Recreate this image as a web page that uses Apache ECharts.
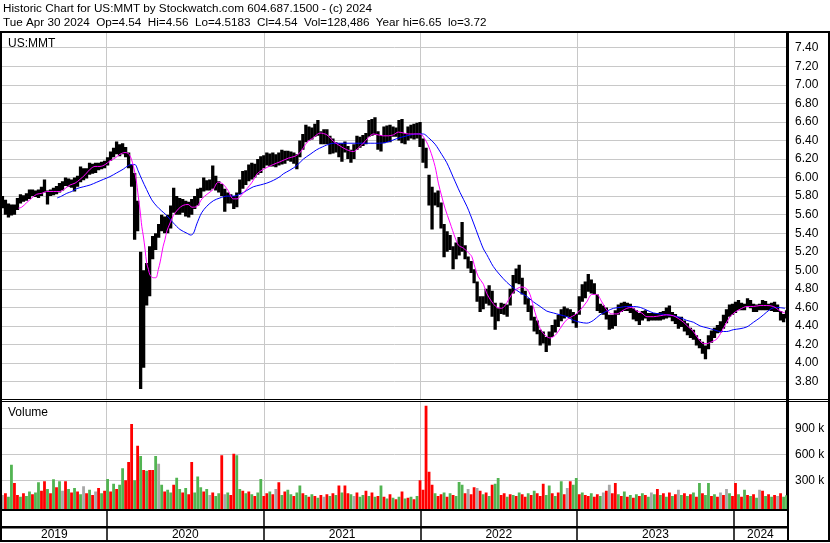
<!DOCTYPE html>
<html><head><meta charset="utf-8">
<script src="https://cdn.jsdelivr.net/npm/echarts@6/dist/echarts.min.js"></script>
<style>html,body{margin:0;padding:0;background:#fff}#c{width:830px;height:543px}</style>
</head><body><div id="c"></div>
<script>
// ---------------- DATA ----------------
const titleLine1 = 'Historic Chart for US:MMT by Stockwatch.com 604.687.1500 - (c) 2024';
const titleLine2 = 'Tue Apr 30 2024  Op=4.54  Hi=4.56  Lo=4.5183  Cl=4.54  Vol=128,486  Year hi=6.65  lo=3.72';
const symbolLabel = 'US:MMT';
const volumeLabel = 'Volume';
const firstWeek = '2019-05-03';   // one bar per week from this date
const axisStart = '2019-05-02';
const axisEnd = '2024-05-04';

const weekHigh = [
5.80,5.76,5.72,5.71,5.71,5.78,5.82,5.81,5.83,5.87,5.87,5.86,5.87,5.90,5.98,5.86,5.87,5.89,5.91,5.94,
5.96,6.00,5.99,5.98,6.00,6.02,6.12,6.10,6.10,6.16,6.15,6.16,6.16,6.17,6.18,6.22,6.28,6.32,6.39,6.36,
6.37,6.33,6.27,6.14,6.05,5.75,5.20,5.00,5.08,5.26,5.37,5.40,5.50,5.60,5.58,5.60,5.70,5.89,5.80,5.78,
5.77,5.75,5.74,5.77,5.80,5.88,5.89,6.00,5.97,5.98,6.13,6.02,5.96,5.93,5.88,5.84,5.82,5.80,5.84,5.98,
6.07,6.08,6.14,6.16,6.15,6.20,6.23,6.24,6.27,6.26,6.27,6.25,6.27,6.30,6.29,6.29,6.28,6.27,6.25,6.40,
6.47,6.57,6.55,6.54,6.58,6.62,6.50,6.52,6.52,6.45,6.42,6.38,6.37,6.37,6.39,6.34,6.30,6.36,6.45,6.44,
6.46,6.48,6.62,6.63,6.65,6.50,6.46,6.55,6.56,6.57,6.55,6.54,6.62,6.63,6.48,6.55,6.57,6.58,6.59,6.60,
6.42,6.32,6.03,5.90,5.84,5.86,5.73,5.50,5.42,5.38,5.26,5.30,5.36,5.52,5.27,5.15,5.10,5.01,4.88,4.72,
4.72,4.80,4.84,4.78,4.65,4.59,4.65,4.64,4.63,4.80,4.95,5.02,5.06,4.92,4.78,4.70,4.62,4.50,4.46,4.36,
4.34,4.28,4.34,4.41,4.47,4.52,4.58,4.61,4.59,4.58,4.55,4.53,4.72,4.85,4.88,4.96,4.90,4.86,4.74,4.64,
4.62,4.60,4.52,4.52,4.57,4.63,4.65,4.66,4.65,4.64,4.59,4.57,4.54,4.56,4.57,4.54,4.54,4.54,4.54,4.55,
4.56,4.60,4.62,4.55,4.53,4.50,4.50,4.46,4.43,4.38,4.36,4.30,4.26,4.23,4.19,4.30,4.35,4.38,4.41,4.45,
4.52,4.58,4.63,4.64,4.66,4.68,4.65,4.64,4.70,4.68,4.64,4.63,4.64,4.68,4.67,4.64,4.65,4.66,4.63,4.56,
4.53,4.57];
const weekLow = [
5.67,5.60,5.57,5.59,5.60,5.65,5.72,5.74,5.75,5.77,5.80,5.79,5.78,5.80,5.84,5.71,5.80,5.81,5.82,5.84,
5.86,5.91,5.90,5.89,5.85,5.90,5.95,5.97,5.99,6.03,6.04,6.05,6.08,6.09,6.10,6.13,6.18,6.22,6.25,6.23,
6.25,6.22,6.10,5.90,5.33,5.42,3.72,3.95,4.62,4.72,5.12,5.22,5.35,5.42,5.40,5.40,5.45,5.62,5.60,5.60,
5.62,5.58,5.57,5.60,5.66,5.70,5.78,5.85,5.86,5.86,5.88,5.86,5.84,5.80,5.63,5.72,5.72,5.66,5.68,5.82,
5.88,5.92,5.96,5.98,6.00,6.03,6.05,6.10,6.13,6.12,6.12,6.11,6.13,6.14,6.15,6.18,6.17,6.15,6.09,6.22,
6.30,6.38,6.40,6.41,6.44,6.45,6.36,6.36,6.36,6.25,6.26,6.27,6.22,6.17,6.27,6.20,6.16,6.20,6.30,6.32,
6.34,6.36,6.44,6.45,6.46,6.30,6.28,6.37,6.38,6.38,6.44,6.44,6.40,6.37,6.36,6.40,6.42,6.41,6.42,6.33,
6.16,6.10,5.70,5.44,5.70,5.68,5.45,5.14,5.20,5.22,5.01,5.12,5.16,5.20,5.12,5.02,4.97,4.86,4.66,4.55,
4.58,4.64,4.62,4.50,4.36,4.45,4.53,4.52,4.50,4.62,4.75,4.86,4.85,4.74,4.63,4.55,4.46,4.34,4.31,4.19,
4.21,4.12,4.19,4.28,4.33,4.39,4.45,4.48,4.50,4.48,4.43,4.38,4.52,4.66,4.70,4.77,4.75,4.74,4.56,4.54,
4.52,4.47,4.36,4.37,4.40,4.52,4.55,4.56,4.56,4.54,4.47,4.45,4.41,4.46,4.48,4.45,4.46,4.46,4.46,4.46,
4.47,4.48,4.49,4.45,4.42,4.37,4.39,4.34,4.30,4.27,4.25,4.19,4.16,4.10,4.04,4.15,4.22,4.27,4.32,4.33,
4.37,4.43,4.50,4.52,4.54,4.57,4.57,4.57,4.61,4.59,4.55,4.55,4.57,4.57,4.57,4.57,4.56,4.55,4.55,4.46,
4.44,4.48];
// weekly volume, thousands of shares
const weekVolumeK = [
130,150,110,480,270,130,110,150,120,170,140,160,277,180,290,200,150,311,220,290,
180,290,200,160,210,170,140,230,150,190,130,170,210,150,180,315,170,260,200,250,
440,300,510,950,300,700,580,420,410,420,420,580,490,250,170,190,160,250,330,200,
160,210,140,510,160,345,220,170,200,130,160,120,150,590,140,160,130,605,590,200,
180,150,170,140,120,160,315,120,150,170,140,200,277,130,170,190,140,120,160,240,
150,130,110,140,120,100,130,110,140,120,150,130,240,160,240,150,140,120,160,110,
130,180,120,160,110,120,240,110,90,140,100,80,110,170,90,100,110,80,120,300,
190,1160,400,250,150,120,140,160,110,150,130,120,280,250,150,200,140,220,210,180,
140,160,120,250,260,326,130,150,110,140,130,120,160,140,110,150,130,180,150,120,
260,130,240,150,120,160,290,140,210,290,250,326,140,160,130,120,150,110,140,120,
160,180,250,150,270,140,120,170,110,130,100,140,120,150,130,110,160,140,200,130,
150,110,160,120,140,190,130,150,120,140,160,110,270,150,130,270,120,140,110,160,
130,200,150,120,270,140,110,190,130,120,140,100,190,180,120,140,110,130,120,150,
110,128];
// bar colour per week (rows of 20 match the rows above): r = down, g = up, n = unchanged
const weekVolumeDir = [
'nrggrrgrggrggrrgrgrg',
'nrgrgrgnrgrnrgrgrgrg',
'grrrgrgrgrrgngrggrgg',
'rgrrgggrgnrggrngrrgg',
'rgrgrggrrgrnrgrggrgg',
'rgrgrgrnrgrgrgrrgnrg',
'grgrgrgrgrgrgrgrgrgr',
'rrrrgrrgrgrgggrnrrnr',
'grgrggrrgrgrgrrgrgrr',
'rggrgrgrnrggrgrrgrrg',
'nrnrrgrgrgrgrgrgngrg',
'rgrgrngrgrgrgrggrgrn',
'rngrrgrgrgrgnrgrgrnr',
'gg'].join('');
const maShort = [ // [week index, price] magenta average
[5.3,5.67],[6.4,5.68],[8.1,5.73],[9.8,5.78],[11.4,5.82],[13.1,5.83],[14.7,5.85],[17,5.85],[19.2,5.85],[20.8,5.88],
[22.5,5.92],[24.2,5.94],[25.8,5.98],[27.5,6.03],[29.2,6.09],[30.8,6.12],[32.5,6.12],[34.2,6.14],[35.8,6.18],[37.5,6.21],
[39.1,6.25],[40.8,6.27],[41.9,6.26],[42.8,6.21],[43.6,6.12],[44.5,5.98],[45.2,5.80],[45.8,5.65],[46.4,5.47],[46.9,5.37],
[47.5,5.22],[48.0,5.08],[48.6,5.01],[49.1,4.95],[50.2,4.92],[51.1,4.92],[51.9,5.01],[52.5,5.09],[53.5,5.26],[54.1,5.33],
[54.7,5.42],[55.8,5.51],[56.9,5.59],[58.5,5.66],[60.1,5.70],[61.8,5.71],[63.1,5.68],[64.8,5.69],[66.4,5.77],[68.1,5.82],
[70.1,5.87],[71.8,5.95],[73.4,5.93],[75.1,5.86],[76.8,5.77],[78.1,5.77],[79.8,5.82],[81.4,5.88],[83.1,5.95],[84.8,6.04],
[86.4,6.08],[88.1,6.11],[90.1,6.14],[92.4,6.17],[95.2,6.21],[97.4,6.23],[99.1,6.27],[101.4,6.38],[103.5,6.43],[105.7,6.48],
[108,6.46],[110.2,6.39],[112.4,6.34],[114.6,6.30],[116.8,6.28],[118.5,6.32],[120.1,6.37],[121.8,6.43],[123.5,6.47],[125.1,6.46],
[126.8,6.45],[128.5,6.45],[130.1,6.46],[131.8,6.49],[133.5,6.48],[135.1,6.47],[136.8,6.47],[139,6.47],[140.7,6.41],[142.3,6.30],
[144,6.12],[145.1,5.94],[146.2,5.80],[147.3,5.67],[149,5.51],[150.7,5.35],[151.8,5.27],[153.4,5.24],[155.1,5.19],[156.2,5.15],
[157.3,5.03],[158.4,4.93],[160.1,4.85],[161.2,4.75],[162.9,4.66],[164.6,4.60],[166.2,4.59],[167.9,4.65],[169.5,4.74],[171.2,4.80],
[172.9,4.82],[174.5,4.80],[175.6,4.74],[176.7,4.61],[177.9,4.48],[179,4.37],[180.6,4.30],[182.3,4.27],[184,4.30],[185.6,4.37],
[187.3,4.45],[188.9,4.49],[190.6,4.52],[192.3,4.57],[194.5,4.66],[196.2,4.74],[197.8,4.74],[199.5,4.66],[201.2,4.57],[202.8,4.53],
[204.5,4.53],[206.2,4.56],[207.8,4.59],[209.5,4.60],[211.2,4.56],[212.8,4.54],[214.5,4.50],[216.7,4.50],[218.9,4.51],[221.1,4.52],
[223.3,4.51],[225,4.48],[226.7,4.44],[228.3,4.39],[230,4.34],[231.7,4.26],[233.3,4.21],[234.4,4.21],[236.1,4.23],[237.8,4.26],
[239.4,4.34],[240.9,4.43],[242.2,4.50],[243.9,4.55],[245.5,4.58],[247.8,4.61],[250,4.61],[252.2,4.62],[254.4,4.62],[256.6,4.61],
[258.9,4.56],[260.5,4.54]];
const maLong = [ // [week index, price] blue average
[18.2,5.78],[19.7,5.80],[21.4,5.83],[23.1,5.85],[24.7,5.88],[26.9,5.90],[29.2,5.92],[31.4,5.95],[33.6,5.98],[35.8,6.01],
[38,6.05],[40.2,6.09],[41.9,6.13],[43,6.14],[44.1,6.14],[45.2,6.07],[46.4,5.98],[48,5.87],[49.7,5.76],[51.4,5.69],
[53,5.64],[54.4,5.60],[56.9,5.51],[59.1,5.44],[61.4,5.40],[62.7,5.38],[63.6,5.40],[64.7,5.50],[66.3,5.62],[68,5.69],
[70.2,5.75],[72.4,5.78],[74.7,5.80],[76.9,5.80],[79.1,5.82],[81.3,5.86],[83.5,5.90],[85.8,5.92],[88,5.94],[90.2,5.97],
[92.4,6.01],[93.5,6.04],[95.7,6.08],[98,6.13],[100.2,6.20],[102.4,6.25],[104.6,6.30],[106.5,6.33],[107.9,6.35],[110.2,6.37],
[112.4,6.37],[115.7,6.37],[119,6.37],[122.4,6.37],[125.1,6.37],[127.9,6.38],[131.3,6.42],[134.6,6.45],[137.9,6.47],[140.1,6.47],
[141.8,6.43],[144,6.36],[146.2,6.25],[147.9,6.16],[150.1,6.00],[152.3,5.84],[154.6,5.69],[156.8,5.51],[158.4,5.37],[160.1,5.23],
[161.2,5.17],[163.4,5.04],[165.6,4.95],[167.9,4.87],[170.1,4.81],[172.3,4.76],[174.5,4.72],[176.7,4.66],[179,4.61],[181.2,4.56],
[183.4,4.54],[185.6,4.52],[187.9,4.50],[190.1,4.46],[192.3,4.44],[194.5,4.43],[196.7,4.46],[198.9,4.52],[201.2,4.56],[203.4,4.59],
[205.6,4.60],[207.8,4.61],[210,4.61],[212.3,4.60],[214.5,4.57],[216.7,4.54],[218.9,4.53],[221.1,4.52],[223.3,4.51],[225.6,4.49],
[227.8,4.46],[230,4.44],[232.2,4.40],[234.5,4.38],[236.7,4.36],[238.9,4.34],[241.1,4.34],[243.3,4.36],[245.5,4.37],[247.8,4.39],
[250,4.44],[252.2,4.49],[254.4,4.55],[256.1,4.59],[257.7,4.60],[260.5,4.59]];
const priceTicks = [3.8,4.0,4.2,4.4,4.6,4.8,5.0,5.2,5.4,5.6,5.8,6.0,6.2,6.4,6.6,6.8,7.0,7.2,7.4];
const volumeTicks = [300000,600000,900000];
const years = ['2019','2020','2021','2022','2023','2024'];

// ---------------- HELPERS ----------------
const DAY = 86400000;
const ms = s => { const p = s.split('-').map(Number); return Date.UTC(p[0], p[1]-1, p[2]); };
const t0 = ms(firstWeek);
const weekTime = w => t0 + w * 7 * DAY;
const xMin = ms(axisStart), xMax = ms(axisEnd);
const yearStarts = years.slice(1).map(y => Date.UTC(+y, 0, 1));
const yearMids = years.map(y => {
  const a = Math.max(Date.UTC(+y,0,1), xMin), b = Math.min(Date.UTC(+y+1,0,1), xMax);
  return (a + b) / 2;
});
const priceData = weekHigh.map((h, i) => [weekTime(i), weekLow[i], h]);
const volData = weekVolumeK.map((v, i) => [weekTime(i), v * 1000, weekVolumeDir[i]]);
const maS = maShort.map(p => [weekTime(p[0]), p[1]]);
const maL = maLong.map(p => [weekTime(p[0]), p[1]]);
const COLORS = { r: '#ff0000', g: '#52b452', n: '#a8a8a8' };
const FONT = '"Liberation Sans", Arial, sans-serif';
const GRIDC = '#c8c8c8';

// volume axis scale: 300k per 26 px, zero 3px above panel bottom
const volTop = 401, volZero = 506.3, volBottom = 509.3;
const perPx = 300000 / 26;
const volMax = (volZero - volTop) * perPx;
const volMin = -(volBottom - volZero) * perPx;

const chart = echarts.init(document.getElementById('c'), null, { renderer: 'canvas' });
const xBase = {
  type: 'value', min: xMin, max: xMax,
  axisLine: { show: false }, axisLabel: { show: false },
  axisTick: { show: false, customValues: yearStarts },
  splitLine: { show: true, lineStyle: { color: GRIDC, width: 1 } }
};
chart.setOption({
  animation: false,
  backgroundColor: '#fff',
  grid: [
    { left: 2, right: 43, top: 29.15, height: 371 },
    { left: 2, right: 43, top: volTop, height: volBottom - volTop },
    { left: 2, right: 43, top: 510.5, height: 16.5 }
  ],
  xAxis: [
    Object.assign({ gridIndex: 0 }, xBase),
    Object.assign({ gridIndex: 1 }, xBase),
    {
      gridIndex: 2, type: 'value', min: xMin, max: xMax, position: 'bottom',
      axisLine: { show: true, onZero: false, lineStyle: { color: '#000', width: 2 } },
      axisTick: { show: true, customValues: yearStarts, length: 14, lineStyle: { color: '#000', width: 1.5 } },
      splitLine: { show: true, lineStyle: { color: '#000', width: 1.5 } },
      axisLabel: {
        show: true, customValues: yearMids, margin: 2,
        fontFamily: FONT, fontSize: 12, color: '#000',
        formatter: v => { const k = yearMids.findIndex(m => Math.abs(m - v) < DAY); return k >= 0 ? years[k] : ''; }
      }
    }
  ],
  yAxis: [
    {
      gridIndex: 0, type: 'value', position: 'right', min: 3.6, max: 7.6,
      axisLine: { show: true, lineStyle: { color: '#000', width: 2 } },
      axisTick: { show: false, customValues: priceTicks },
      axisLabel: { customValues: priceTicks, margin: 8, fontFamily: FONT, fontSize: 12, color: '#000',
        formatter: v => v.toFixed(2) },
      splitLine: { show: true, lineStyle: { color: GRIDC, width: 1 } }
    },
    {
      gridIndex: 1, type: 'value', position: 'right', min: volMin, max: volMax,
      axisLine: { show: true, lineStyle: { color: '#000', width: 2 } },
      axisTick: { show: false, customValues: volumeTicks },
      axisLabel: { customValues: volumeTicks, margin: 8, fontFamily: FONT, fontSize: 12, color: '#000',
        formatter: v => Math.round(v / 1000) + ' k' },
      splitLine: { show: true, lineStyle: { color: GRIDC, width: 1 } }
    },
    { gridIndex: 2, type: 'value', show: false, min: 0, max: 1 }
  ],
  series: [
    {
      type: 'custom', xAxisIndex: 0, yAxisIndex: 0, clip: true,
      data: priceData, encode: { x: 0, y: [1, 2] },
      renderItem: (params, api) => {
        const t = api.value(0);
        const top = api.coord([t, api.value(2)]);
        const bot = api.coord([t, api.value(1)]);
        const w = 3.3;
        return { type: 'rect', shape: { x: top[0] - w / 2, y: top[1], width: w, height: Math.max(1, bot[1] - top[1]) },
                 style: { fill: '#000' } };
      }
    },
    {
      type: 'line', xAxisIndex: 0, yAxisIndex: 0, data: maL, showSymbol: false, smooth: 0.3,
      lineStyle: { color: '#0000ff', width: 1 }, z: 3
    },
    {
      type: 'line', xAxisIndex: 0, yAxisIndex: 0, data: maS, showSymbol: false, smooth: 0.3,
      lineStyle: { color: '#ff00ff', width: 1 }, z: 4
    },
    {
      type: 'custom', xAxisIndex: 1, yAxisIndex: 1, clip: true,
      data: volData, encode: { x: 0, y: 1 },
      renderItem: (params, api) => {
        const t = api.value(0);
        const top = api.coord([t, api.value(1)]);
        const cs = params.coordSys;
        const bottom = cs.y + cs.height;
        const w = 2.8;
        const dir = volData[params.dataIndex][2];
        return { type: 'rect', shape: { x: top[0] - w / 2, y: top[1], width: w, height: bottom - top[1] },
                 style: { fill: COLORS[dir] || COLORS.n } };
      }
    }
  ],
  graphic: [
    { type: 'rect', z: 100, shape: { x: 0, y: 0, width: 830, height: 31 }, style: { fill: '#fff' } },
    { type: 'text', z: 101, x: 3, y: 9, style: { text: titleLine1, font: '11.7px ' + FONT, fill: '#000', verticalAlign: 'middle' } },
    { type: 'text', z: 101, x: 3, y: 23, style: { text: titleLine2, font: '11.7px ' + FONT, fill: '#000', verticalAlign: 'middle' } },
    { type: 'rect', z: 101, shape: { x: 0, y: 31, width: 830, height: 2 }, style: { fill: '#000' } },
    { type: 'text', z: 101, x: 8, y: 44, style: { text: symbolLabel, font: '12px ' + FONT, fill: '#000', verticalAlign: 'middle' } },
    { type: 'text', z: 101, x: 8, y: 413, style: { text: volumeLabel, font: '12px ' + FONT, fill: '#000', verticalAlign: 'middle' } },
    { type: 'rect', z: 101, shape: { x: 0, y: 31, width: 2, height: 511 }, style: { fill: '#000' } },
    { type: 'rect', z: 101, shape: { x: 828, y: 31, width: 2, height: 511 }, style: { fill: '#000' } },
    { type: 'rect', z: 101, shape: { x: 787, y: 31, width: 2, height: 511 }, style: { fill: '#000' } },
    { type: 'rect', z: 101, shape: { x: 0, y: 399, width: 830, height: 1 }, style: { fill: '#000' } },
    { type: 'rect', z: 101, shape: { x: 0, y: 401, width: 830, height: 1 }, style: { fill: '#000' } },
    { type: 'rect', z: 101, shape: { x: 0, y: 509, width: 789, height: 2 }, style: { fill: '#000' } },
    { type: 'rect', z: 101, shape: { x: 0, y: 526.5, width: 789, height: 2 }, style: { fill: '#000' } },
    { type: 'rect', z: 101, shape: { x: 0, y: 540, width: 830, height: 2 }, style: { fill: '#000' } }
  ]
});
</script>
</body></html>
